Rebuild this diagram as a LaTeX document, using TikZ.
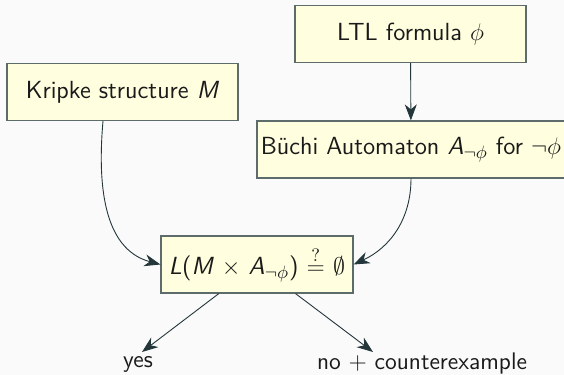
\documentclass[tikz,border=0pt]{standalone}
\usepackage{fontspec}
\usetikzlibrary{arrows.meta}
\definecolor{pagebg}{HTML}{FAFAFA}
\definecolor{boxfill}{HTML}{FFFFE0}
\definecolor{boxline}{HTML}{5E6B6B}
\definecolor{ink}{HTML}{23373B}
\definecolor{txt}{HTML}{1A1A1A}
\tikzset{
  stagebox/.style={draw=boxline, line width=0.6pt, fill=boxfill, text=txt,
    minimum height=28.5pt, inner sep=1.5pt, font=\sffamily\fontsize{12.4}{14}\selectfont},
  flow/.style={draw=ink, line width=0.45pt,
    -{Stealth[length=8pt,width=6pt,inset=2.5pt]}},
  outcome/.style={text=txt, inner sep=0pt, font=\sffamily\fontsize{12}{14}\selectfont}
}
\begin{document}
\begin{tikzpicture}[x=0.5pt,y=-0.5pt]
  \fill[pagebg] (0,0) rectangle (564,375);
  \useasboundingbox (0,0) rectangle (564,375);

  \node[stagebox, minimum width=115.5pt] (ltl) at (410.5,34) {LTL formula $\phi$};
  \node[stagebox, minimum width=115.5pt] (kripke) at (122.5,92) {Kripke structure \textit{M}};
  \node[stagebox, minimum width=154pt] (buchi) at (411,149.5)
    {B\"uchi Automaton \textit{A}$_{\neg\phi}$ for $\neg\phi$};
  \node[stagebox, minimum width=96pt] (check) at (257,264.5)
    {\textit{L}(\textit{M} $\times$ \textit{A}$_{\neg\phi}$) $\stackrel{?}{=}$ $\emptyset$};

  \coordinate (yesTip) at (142,352);
  \coordinate (noTip) at (373,352);
  \coordinate (kOut) at (103,121);
  \node[outcome] (yes) at (138,364) {yes};
  \node[outcome] (no) at (422,364) {no + counterexample};

  \draw[flow] (ltl) -- (buchi);
  \draw[flow] (kOut) to[out=-95, in=165] (check.west);
  \draw[flow] (buchi.south) to[out=-90, in=25] (check.east);
  \draw[flow] (check) -- (yesTip);
  \draw[flow] (check) -- (noTip);
\end{tikzpicture}
\end{document}
